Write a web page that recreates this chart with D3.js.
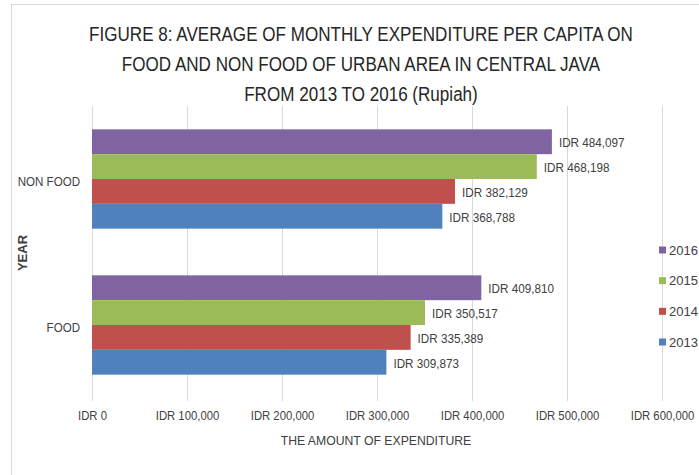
<!DOCTYPE html>
<html>
<head>
<meta charset="utf-8">
<script src="https://cdn.jsdelivr.net/npm/d3@7"></script>
<style>
  html, body { margin: 0; padding: 0; background: #ffffff; }
  svg { display: block; }
  text { font-family: "Liberation Sans Narrow", "Liberation Sans", Arial, sans-serif; }
</style>
</head>
<body>
<svg id="chart" width="699" height="475"></svg>
<script>
// ---- Data ----
const categories = ["NON FOOD", "FOOD"];           // top to bottom
const years = ["2016", "2015", "2014", "2013"];    // top to bottom within a group
const values2013 = [368788, 309873];
const values2014 = [382129, 335389];
const values2015 = [468198, 350517];
const values2016 = [484097, 409810];
const xTicks = [0, 100000, 200000, 300000, 400000, 500000, 600000];
const titleLines = [
  "FIGURE 8: AVERAGE OF MONTHLY EXPENDITURE PER CAPITA ON",
  "FOOD AND NON FOOD OF URBAN AREA IN CENTRAL JAVA",
  "FROM 2013 TO 2016 (Rupiah)"
];
const xAxisTitle = "THE AMOUNT OF EXPENDITURE";
const yAxisTitle = "YEAR";

const seriesByYear = {"2013": values2013, "2014": values2014, "2015": values2015, "2016": values2016};
const colors = {"2016": "#8064A2", "2015": "#9BBB59", "2014": "#C0504D", "2013": "#4F81BD"};

const svg = d3.select("#chart");
const fmt = v => "IDR " + d3.format(",")(v);

// condense text horizontally (mimic a narrow font)
function condense(sel, f) {
  sel.each(function() {
    const w = this.getComputedTextLength();
    d3.select(this).attr("textLength", w * f).attr("lengthAdjust", "spacingAndGlyphs");
  });
}

// frame
svg.append("rect").attr("x", 11.5).attr("y", 4.5).attr("width", 720).attr("height", 500)
  .attr("fill", "none").attr("stroke", "#d9d9d9").attr("stroke-width", 1);

// scales
const x = d3.scaleLinear().domain([0, 600000]).range([92, 662]);
const yTop = 106, yBot = 398;
const yCat = d3.scaleBand().domain(categories).range([yTop, yBot]).padding(0);
const yYear = d3.scaleBand().domain(years).range([0, yCat.bandwidth()]).paddingInner(0).paddingOuter(0.94);

// gridlines
svg.append("g").selectAll("line").data(xTicks).join("line")
  .attr("x1", d => Math.round(x(d)) + 0.5).attr("x2", d => Math.round(x(d)) + 0.5)
  .attr("y1", yTop).attr("y2", 401)
  .attr("stroke", "#d9d9d9").attr("stroke-width", 1);

// x axis tick labels
const xAxis = d3.axisBottom(x).tickValues(xTicks).tickFormat(fmt).tickSize(0).tickPadding(0);
const gx = svg.append("g").attr("transform", "translate(0,411)").call(xAxis);
gx.select(".domain").remove();
gx.selectAll("text").attr("font-size", 13).attr("fill", "#404040")
  .attr("font-family", "'Liberation Sans Narrow', 'Liberation Sans', sans-serif")
  .call(condense, 0.87);

// y axis category labels
const yAxis = d3.axisLeft(yCat).tickSize(0).tickPadding(0);
const gy = svg.append("g").attr("transform", "translate(80,3)").call(yAxis);
gy.select(".domain").remove();
gy.selectAll("text").attr("font-size", 13).attr("fill", "#404040")
  .attr("font-family", "'Liberation Sans Narrow', 'Liberation Sans', sans-serif")
  .call(condense, 0.89);

// bars
const flat = [];
categories.forEach((c, i) => years.forEach(y => flat.push({cat: c, year: y, value: seriesByYear[y][i]})));

const groups = svg.append("g");
groups.selectAll("rect").data(flat).join("rect")
  .attr("x", x(0))
  .attr("y", d => yCat(d.cat) + yYear(d.year))
  .attr("width", d => x(d.value) - x(0))
  .attr("height", yYear.bandwidth())
  .attr("fill", d => colors[d.year]);

// data labels
groups.selectAll("text").data(flat).join("text")
  .attr("x", d => x(d.value) + 7)
  .attr("y", d => yCat(d.cat) + yYear(d.year) + yYear.bandwidth() / 2 + 1)
  .attr("dy", "0.35em")
  .attr("font-size", 13).attr("fill", "#404040")
  .text(d => fmt(d.value))
  .call(condense, 0.9);

// title
svg.append("g").selectAll("text").data(titleLines).join("text")
  .attr("x", 361).attr("y", (d, i) => 41 + i * 30)
  .attr("text-anchor", "middle").attr("font-size", 20).attr("fill", "#262626")
  .text(d => d)
  .call(condense, 0.853);

// axis titles
svg.append("text").attr("x", 376).attr("y", 445).attr("text-anchor", "middle")
  .attr("font-size", 13).attr("fill", "#404040").text(xAxisTitle)
  .call(condense, 0.94);
svg.append("text").attr("transform", "translate(27,253) rotate(-90)").attr("text-anchor", "middle")
  .attr("font-size", 13).attr("font-weight", "bold").attr("fill", "#404040").text(yAxisTitle);

// legend
const legendY = d3.scalePoint().domain(years).range([250, 342]);
const lg = svg.append("g").selectAll("g").data(years).join("g")
  .attr("transform", d => `translate(659,${legendY(d)})`);
lg.append("rect").attr("x", 0).attr("y", -3.5).attr("width", 7).attr("height", 7)
  .attr("fill", d => colors[d]);
lg.append("text").attr("x", 10).attr("y", 0).attr("dy", "0.35em")
  .attr("font-size", 13).attr("fill", "#404040").text(d => d);
</script>
</body>
</html>
